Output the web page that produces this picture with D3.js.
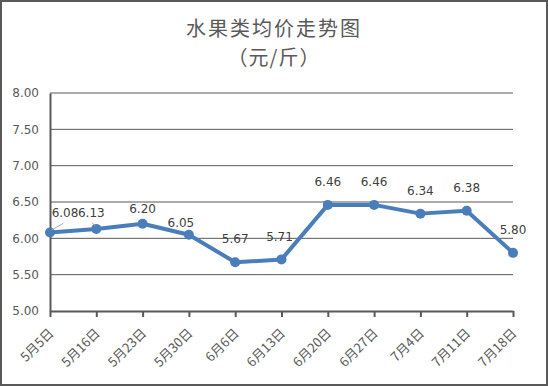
<!DOCTYPE html>
<html>
<head>
<meta charset="utf-8">
<script src="https://cdn.jsdelivr.net/npm/d3@7"></script>
<style>
body { margin: 0; background: #fff; }
text { font-family: "Noto Sans CJK SC", "DejaVu Sans", sans-serif; }
</style>
</head>
<body>
<svg id="chart"></svg>
<script>
var width = 548;
var height = 386;

var dates = ["5月5日", "5月16日", "5月23日", "5月30日", "6月6日", "6月13日",
    "6月20日", "6月27日", "7月4日", "7月11日", "7月18日"];
var prices = [6.08, 6.13, 6.20, 6.05, 5.67, 5.71, 6.46, 6.46, 6.34, 6.38, 5.80];
var yTicks = [5.0, 5.5, 6.0, 6.5, 7.0, 7.5, 8.0];

var margin = {left: 50, right: 35, top: 93, bottom: 75};

var svg = d3.select("#chart")
    .attr("width", width)
    .attr("height", height);

svg.append("rect")
    .attr("x", 1).attr("y", 1)
    .attr("width", width - 2).attr("height", height - 2)
    .attr("fill", "#fff")
    .attr("stroke", "#595959")
    .attr("stroke-width", 2);

var xScale = d3.scalePoint()
    .domain(dates)
    .range([margin.left, width - margin.right]);

var yScale = d3.scaleLinear()
    .domain([5, 8])
    .range([height - margin.bottom, margin.top]);

// grid
svg.append("g")
    .selectAll("line")
    .data(yTicks.slice(1))
    .enter()
    .append("line")
     .attr("x1", margin.left)
     .attr("x2", width - margin.right)
     .attr("y1", d => yScale(d))
     .attr("y2", d => yScale(d))
     .attr("stroke", "#595959")
     .attr("stroke-width", 1);

var yAxis = d3.axisLeft(yScale)
    .tickValues(yTicks)
    .tickFormat(d3.format(".2f"))
    .tickSize(0)
    .tickPadding(11);

var gy = svg.append("g")
    .attr("transform", `translate(${margin.left}, 0)`)
    .call(yAxis);
gy.select(".domain").attr("stroke", "#595959").attr("stroke-width", 2);
gy.selectAll("text")
    .attr("fill", "#595959")
    .style("font-size", "12px")
    .style("font-family", "'DejaVu Sans', sans-serif");

var xAxis = d3.axisBottom(xScale)
    .tickSize(6)
    .tickSizeOuter(0);

var gx = svg.append("g")
    .attr("transform", `translate(0, ${height - margin.bottom})`)
    .call(xAxis);
gx.select(".domain").attr("stroke", "#595959").attr("stroke-width", 2);
gx.selectAll(".tick line").attr("stroke", "#595959").attr("stroke-width", 2);
gx.selectAll("text")
    .attr("fill", "#595959")
    .attr("x", 0).attr("y", 0).attr("dy", 0)
    .style("font-size", "13px")
    .style("text-anchor", "end")
    .attr("transform", "translate(4, 23) rotate(-45)");

// line
var line = d3.line()
    .x((d, i) => xScale(dates[i]))
    .y(d => yScale(d));

svg.append("path")
    .datum(prices)
    .attr("d", line)
    .attr("fill", "none")
    .attr("stroke", "#4a7ebb")
    .attr("stroke-width", 4)
    .attr("stroke-linejoin", "round");

svg.append("g")
    .selectAll("circle")
    .data(prices)
    .enter()
    .append("circle")
     .attr("cx", (d, i) => xScale(dates[i]))
     .attr("cy", d => yScale(d))
     .attr("r", 5)
     .attr("fill", "#4a7ebb");

// label nudges (Excel moved a few of them by hand)
var nudge = {0: [15, -16], 1: [-5, -12], 2: [0, -11], 3: [-8, -8], 5: [-2, -18]};
function lx(i) { return xScale(dates[i]) + (nudge[i] ? nudge[i][0] : 0); }
function ly(d, i) { return yScale(d) + (nudge[i] ? nudge[i][1] : -19); }

var leaders = [[1.7, -2.5, 13.3, -9.2], [-4.3, -6.2, -1, -3]];
svg.append("g")
    .selectAll("line")
    .data(leaders)
    .enter()
    .append("line")
     .attr("x1", (d, i) => xScale(dates[i]) + d[0])
     .attr("y1", (d, i) => yScale(prices[i]) + d[1])
     .attr("x2", (d, i) => xScale(dates[i]) + d[2])
     .attr("y2", (d, i) => yScale(prices[i]) + d[3])
     .attr("stroke", "#a6a6a6")
     .attr("stroke-width", 1);

svg.append("g")
    .selectAll("text")
    .data(prices)
    .enter()
    .append("text")
     .attr("x", (d, i) => lx(i))
     .attr("y", (d, i) => ly(d, i))
     .style("text-anchor", "middle")
     .style("font-size", "12px")
     .style("font-family", "'DejaVu Sans', sans-serif")
     .attr("fill", "#404040")
     .text(d => d.toFixed(2));

svg.append("text")
    .attr("x", width / 2)
    .attr("y", 36)
    .style("text-anchor", "middle")
    .style("font-size", "20px")
    .style("letter-spacing", "2px")
    .attr("fill", "#595959")
    .text("水果类均价走势图");

svg.append("text")
    .attr("x", width / 2)
    .attr("y", 65)
    .style("text-anchor", "middle")
    .style("font-size", "20px")
    .style("letter-spacing", "1px")
    .attr("fill", "#595959")
    .text("（元/斤）");
</script>
</body>
</html>
